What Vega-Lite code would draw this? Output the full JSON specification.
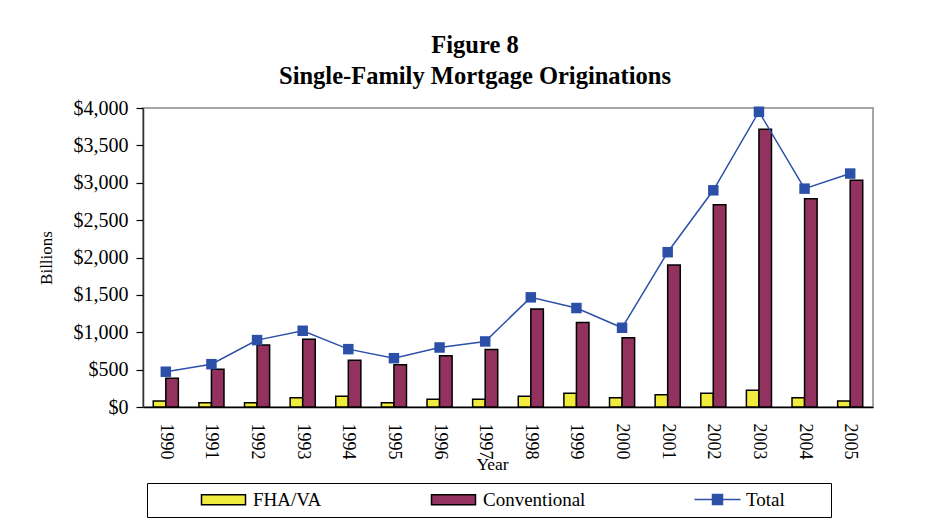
{
  "$schema": "https://vega.github.io/schema/vega-lite/v6.json",
  "width": 730,
  "height": 299,
  "autosize": {"type": "none"},
  "padding": {"left": 143, "top": 108, "right": 52, "bottom": 111},
  "background": "white",
  "title": {
    "text": ["Figure 8", "Single-Family Mortgage Originations"],
    "font": "Liberation Serif",
    "fontSize": 24.5,
    "fontWeight": "bold",
    "lineHeight": 31,
    "anchor": "middle",
    "frame": "group",
    "dx": -33,
    "offset": 9,
    "color": "black"
  },
  "config": {
    "view": {"stroke": "#a6a6a6", "strokeWidth": 2},
    "font": "Liberation Serif"
  },
  "data": {
    "values": [
      {"year": "1990", "series": "FHA/VA", "value": 80},
      {"year": "1991", "series": "FHA/VA", "value": 58},
      {"year": "1992", "series": "FHA/VA", "value": 58},
      {"year": "1993", "series": "FHA/VA", "value": 125},
      {"year": "1994", "series": "FHA/VA", "value": 143},
      {"year": "1995", "series": "FHA/VA", "value": 58},
      {"year": "1996", "series": "FHA/VA", "value": 103},
      {"year": "1997", "series": "FHA/VA", "value": 103},
      {"year": "1998", "series": "FHA/VA", "value": 143},
      {"year": "1999", "series": "FHA/VA", "value": 184},
      {"year": "2000", "series": "FHA/VA", "value": 125},
      {"year": "2001", "series": "FHA/VA", "value": 165},
      {"year": "2002", "series": "FHA/VA", "value": 184},
      {"year": "2003", "series": "FHA/VA", "value": 224},
      {"year": "2004", "series": "FHA/VA", "value": 125},
      {"year": "2005", "series": "FHA/VA", "value": 80},
      {"year": "1990", "series": "Conventional", "value": 385},
      {"year": "1991", "series": "Conventional", "value": 506},
      {"year": "1992", "series": "Conventional", "value": 828},
      {"year": "1993", "series": "Conventional", "value": 908},
      {"year": "1994", "series": "Conventional", "value": 627},
      {"year": "1995", "series": "Conventional", "value": 564},
      {"year": "1996", "series": "Conventional", "value": 684},
      {"year": "1997", "series": "Conventional", "value": 769},
      {"year": "1998", "series": "Conventional", "value": 1311},
      {"year": "1999", "series": "Conventional", "value": 1131},
      {"year": "2000", "series": "Conventional", "value": 926},
      {"year": "2001", "series": "Conventional", "value": 1901},
      {"year": "2002", "series": "Conventional", "value": 2707},
      {"year": "2003", "series": "Conventional", "value": 3717},
      {"year": "2004", "series": "Conventional", "value": 2787},
      {"year": "2005", "series": "Conventional", "value": 3033},
      {"year": "1990", "series": "Total", "value": 472},
      {"year": "1991", "series": "Total", "value": 573},
      {"year": "1992", "series": "Total", "value": 895},
      {"year": "1993", "series": "Total", "value": 1020},
      {"year": "1994", "series": "Total", "value": 774},
      {"year": "1995", "series": "Total", "value": 653},
      {"year": "1996", "series": "Total", "value": 796},
      {"year": "1997", "series": "Total", "value": 877},
      {"year": "1998", "series": "Total", "value": 1467},
      {"year": "1999", "series": "Total", "value": 1324},
      {"year": "2000", "series": "Total", "value": 1060},
      {"year": "2001", "series": "Total", "value": 2071},
      {"year": "2002", "series": "Total", "value": 2899},
      {"year": "2003", "series": "Total", "value": 3950},
      {"year": "2004", "series": "Total", "value": 2921},
      {"year": "2005", "series": "Total", "value": 3123}
    ]
  },
  "layer": [
    {
      "transform": [{"filter": "datum.series !== 'Total'"}],
      "mark": {"type": "bar", "stroke": "black", "strokeWidth": 1.5},
      "encoding": {
        "x": {
          "field": "year",
          "type": "nominal",
          "title": "Year",
          "scale": {"paddingInner": 0.45, "paddingOuter": 0.225},
          "axis": {
            "labelAngle": 90,
            "labelFontSize": 18,
            "labelColor": "black",
            "ticks": false,
            "labelPadding": 16,
            "domainColor": "black",
            "domainWidth": 1.5,
            "titleFontSize": 17.5,
            "titleFontWeight": "normal",
            "titleColor": "black",
            "titlePadding": -4,
            "titleX": 349
          }
        },
        "xOffset": {
          "field": "series",
          "sort": ["FHA/VA", "Conventional"],
          "scale": {"paddingInner": 0, "paddingOuter": 0}
        },
        "y": {
          "field": "value",
          "type": "quantitative",
          "title": "Billions",
          "scale": {"domain": [0, 4000]},
          "axis": {
            "values": [0, 500, 1000, 1500, 2000, 2500, 3000, 3500, 4000],
            "tickCount": 9,
            "format": "$,.0f",
            "grid": false,
            "labelOverlap": false,
            "labelFontSize": 20,
            "labelColor": "black",
            "labelPadding": 8,
            "tickSize": 7,
            "tickColor": "black",
            "tickWidth": 1.2,
            "domainColor": "#333333",
            "domainWidth": 1.5,
            "titleFontSize": 17,
            "titleFontWeight": "normal",
            "titleColor": "black",
            "titlePadding": 18
          }
        },
        "color": {
          "field": "series",
          "type": "nominal",
          "scale": {
            "domain": ["FHA/VA", "Conventional"],
            "range": ["#f0eb3c", "#93325f"]
          },
          "legend": {
            "orient": "none",
            "legendX": 4,
            "legendY": 375,
            "direction": "horizontal",
            "title": null,
            "padding": 7,
            "labelFontSize": 19,
            "labelColor": "black",
            "labelOffset": 37,
            "labelLimit": 500,
            "symbolOffset": 43,
            "columnPadding": 62,
            "symbolSize": 100,
            "symbolType": "M-1,-1H7.8V1H-1Z",
            "symbolStrokeColor": "black",
            "symbolStrokeWidth": 1.5
          }
        }
      }
    },
    {
      "transform": [{"filter": "datum.series === 'Total'"}],
      "mark": {"type": "line", "strokeWidth": 1.5},
      "encoding": {
        "x": {"field": "year", "type": "nominal"},
        "y": {
          "field": "value",
          "type": "quantitative",
          "axis": {
            "values": [0, 500, 1000, 1500, 2000, 2500, 3000, 3500, 4000],
            "tickCount": 9,
            "labelOverlap": false
          }
        },
        "stroke": {
          "field": "series",
          "type": "nominal",
          "scale": {"domain": ["Total"], "range": ["#2c50a8"]},
          "legend": {
            "orient": "none",
            "legendX": 4,
            "legendY": 375,
            "direction": "horizontal",
            "title": " ",
            "titleOrient": "right",
            "titleFontSize": 11,
            "titlePadding": 39,
            "padding": 7,
            "strokeColor": "black",
            "labelFontSize": 19,
            "labelColor": "black",
            "labelOffset": 37,
            "labelLimit": 300,
            "symbolOffset": 536,
            "symbolSize": 100,
            "symbolType": "M-1,0H8.2M2.6,-1H4.6V1H2.6Z",
            "symbolFillColor": "#2c50a8",
            "symbolStrokeColor": "#2c50a8",
            "symbolStrokeWidth": 1.5
          }
        }
      }
    },
    {
      "transform": [{"filter": "datum.series === 'Total'"}],
      "mark": {"type": "point", "shape": "square", "filled": true, "size": 110, "color": "#2c50a8", "opacity": 1},
      "encoding": {
        "x": {"field": "year", "type": "nominal"},
        "y": {
          "field": "value",
          "type": "quantitative",
          "axis": {
            "values": [0, 500, 1000, 1500, 2000, 2500, 3000, 3500, 4000],
            "tickCount": 9,
            "labelOverlap": false
          }
        }
      }
    }
  ]
}
